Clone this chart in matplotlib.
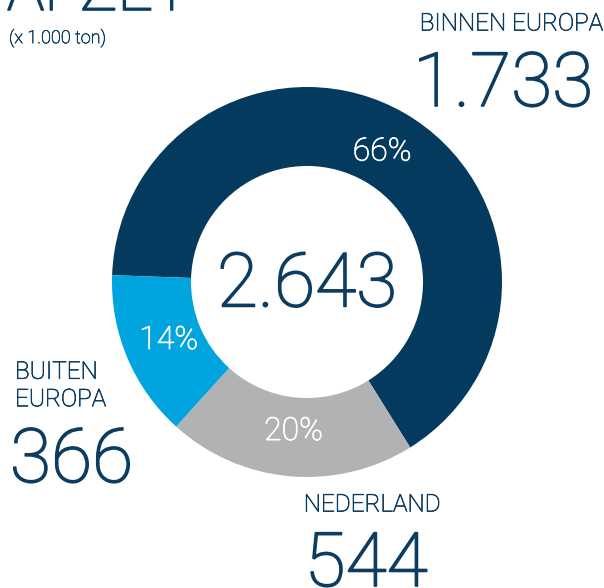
import numpy as np
import matplotlib
matplotlib.use("Agg")
import matplotlib.pyplot as plt
import matplotlib.patheffects as pe

# afzet (x 1.000 ton)
regions = ["BINNEN EUROPA", "NEDERLAND", "BUITEN EUROPA"]
values = [1733, 544, 366]
pct_labels = ["66%", "20%", "14%"]
total_label = "2.643"
value_labels = ["1.733", "544", "366"]

navy = "#033a5e"
grey = "#b1b2b4"
cyan = "#00a5df"
text_col = "#0c3c60"

plt.rcParams["font.family"] = ["Roboto", "DejaVu Sans"]
fw = "light"

W, H = 604, 588
fig = plt.figure(figsize=(W / 100, H / 100), dpi=100)


def px(x, y):
    return x / W, 1 - y / H


def thick(col, lw=0.8):
    return [pe.withStroke(linewidth=lw, foreground=col)]


# donut: centre (307, 282), outer radius 195 px
cx, cy, R = 307, 282, 195
ax = fig.add_axes([(cx - R) / W, (H - cy - R) / H, 2 * R / W, 2 * R / H])
wedges, _ = ax.pie(values, colors=[navy, grey, cyan], startangle=178,
                   counterclock=False, radius=1,
                   wedgeprops=dict(width=0.405, linewidth=0))
ax.set_xlim(-1, 1)
ax.set_ylim(-1, 1)
ax.axis("off")

for w, t in zip(wedges, pct_labels):
    ang = np.deg2rad((w.theta1 + w.theta2) / 2)
    ax.text(0.77 * np.cos(ang), 0.77 * np.sin(ang), t, color="white",
            fontsize=23, fontweight=fw, ha="center", va="center",
            path_effects=thick("white", 0.6))

big = dict(color=text_col, fontsize=54, fontweight=fw,
           path_effects=thick(text_col, 1.2))
small = dict(color=text_col, fontsize=17.5, fontweight=fw,
             path_effects=thick(text_col, 0.5))

ax.text(0, -0.02, total_label, ha="center", va="center", **big)

# title and subtitle
fig.text(*px(7, 10), "AFZET", color=text_col, fontsize=45, fontweight=fw,
         ha="left", va="baseline", path_effects=thick(text_col, 1.2))
fig.text(*px(9, 38), "(x 1.000 ton)", color=text_col, fontsize=13,
         fontweight=fw, ha="left", va="center",
         path_effects=thick(text_col, 0.4))

# region labels
fig.text(*px(603, 24), regions[0], ha="right", va="center", **small)
fig.text(*px(413, 106), value_labels[0], ha="left", va="baseline", **big)

fig.text(*px(15, 386), "BUITEN\nEUROPA", ha="left", va="center",
         linespacing=1.25, **small)
fig.text(*px(10, 482), value_labels[2], ha="left", va="baseline", **big)

fig.text(*px(372, 505), regions[1], ha="center", va="center", **small)
fig.text(*px(366, 586), value_labels[1], ha="center", va="baseline", **big)

fig.savefig("out.png", dpi=100)
